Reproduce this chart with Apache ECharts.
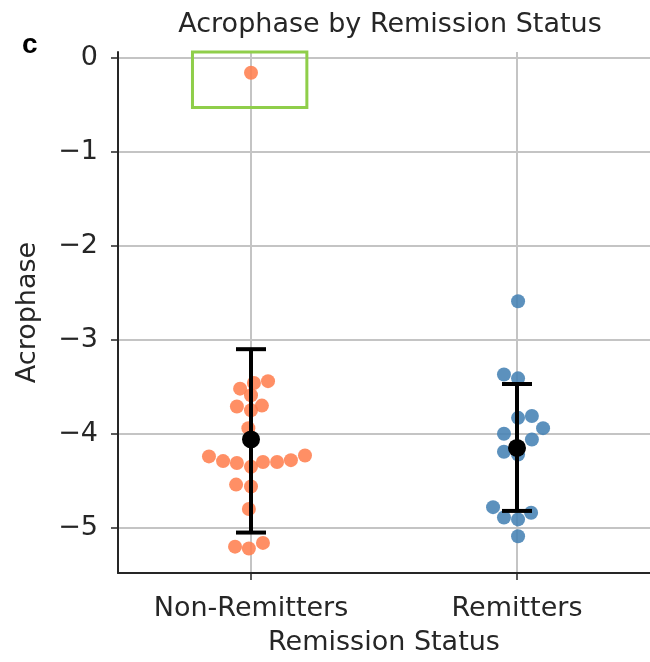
<!DOCTYPE html>
<html>
<head>
<meta charset="utf-8">
<script src="https://cdn.jsdelivr.net/npm/echarts@6/dist/echarts.min.js"></script>
<style>html,body{margin:0;padding:0;background:#fff}#c{width:650px;height:662px}</style>
</head>
<body>
<div id="c"></div>
<script>
// ---- data ----
const categories = ['Non-Remitters', 'Remitters'];
const yTicks = [0, -1, -2, -3, -4, -5];
// jitter offsets (category units) and values
const nonRemJitter = [0, -0.041, 0.011, 0.064, 0, -0.053, 0.041, 0, -0.01, -0.158, -0.105, -0.053, 0, 0.045, 0.098, 0.15, 0.203, -0.056, 0, -0.008, -0.06, -0.008, 0.045];
const nonRemValues = [-0.16, -3.52, -3.46, -3.44, -3.59, -3.71, -3.70, -3.75, -3.94, -4.24, -4.29, -4.31, -4.35, -4.30, -4.30, -4.28, -4.23, -4.54, -4.56, -4.80, -5.20, -5.22, -5.16];
const remJitter = [0.004, -0.049, 0.004, 0.004, 0.056, 0.098, -0.049, 0.056, -0.049, 0.004, -0.09, -0.049, 0.004, 0.053, 0.004];
const remValues = [-2.59, -3.37, -3.41, -3.83, -3.81, -3.94, -4.00, -4.06, -4.19, -4.22, -4.78, -4.89, -4.91, -4.84, -5.09];
const means = [-4.06, -4.15];
const errLow = [-5.05, -4.82];
const errHigh = [-3.10, -3.47];
// highlighted region around the outlier [x0, x1] and [y0, y1]
const boxX = [-0.22, 0.21];
const boxY = [-0.53, 0.085];
const catPositions = [0, 1];

const chart = echarts.init(document.getElementById('c'), null, {renderer: 'canvas'});
const FONT = 'DejaVu Sans';
const TXT = '#262626';
const GRID = '#c4c4c4';

const nonRemPts = nonRemValues.map((v, i) => [0 + nonRemJitter[i], v]);
const remPts = remValues.map((v, i) => [1 + remJitter[i], v]);
const meanPts = means.map((m, i) => [i, m]);
const errData = means.map((m, i) => [i, errLow[i], errHigh[i]]);

chart.setOption({
  animation: false,
  backgroundColor: '#fff',
  title: {
    text: 'Acrophase by Remission Status',
    left: 385, top: 6, textAlign: 'center',
    textStyle: {fontFamily: FONT, fontSize: 27, fontWeight: 'normal', color: TXT}
  },
  graphic: [{
    type: 'text', left: 22, top: 31,
    style: {text: 'c', font: 'bold 28px "Liberation Sans", Arial', fill: '#000'}
  }],
  grid: {left: 118, right: 0, top: 52, bottom: 89, containLabel: false},
  xAxis: {
    type: 'value', min: -0.5, max: 1.5,
    name: 'Remission Status', nameLocation: 'middle', nameGap: 56,
    nameTextStyle: {fontFamily: FONT, fontSize: 27, color: TXT},
    axisLine: {show: true, onZero: false, lineStyle: {color: TXT, width: 2}},
    axisTick: {show: true, customValues: catPositions, length: 7, lineStyle: {color: TXT, width: 1.5}},
    axisLabel: {customValues: catPositions, formatter: v => categories[Math.round(v)] || '', margin: 22,
      fontFamily: FONT, fontSize: 27, color: TXT},
    splitLine: {show: true, lineStyle: {color: GRID, width: 2}}
  },
  yAxis: {
    type: 'value', min: -5.48, max: 0.06,
    name: 'Acrophase', nameLocation: 'middle', nameGap: 77, nameRotate: 90,
    nameTextStyle: {fontFamily: FONT, fontSize: 27, color: TXT},
    axisLine: {show: true, onZero: false, lineStyle: {color: TXT, width: 2}},
    axisTick: {show: true, customValues: yTicks, length: 7, lineStyle: {color: TXT, width: 1.5}},
    axisLabel: {customValues: yTicks, formatter: v => String(v).replace('-', '\u2212'), margin: 20,
      fontFamily: FONT, fontSize: 27, color: TXT},
    splitLine: {show: true, lineStyle: {color: GRID, width: 2}}
  },
  series: [
    {
      type: 'scatter', name: 'Non-Remitters', data: nonRemPts, symbolSize: 14, z: 3,
      itemStyle: {color: '#ff7f50', opacity: 0.88},
      markArea: {
        silent: true,
        itemStyle: {color: 'rgba(0,0,0,0)', borderColor: '#8fce4a', borderWidth: 3},
        data: [[{coord: [boxX[0], boxY[1]]}, {coord: [boxX[1], boxY[0]]}]]
      }
    },
    {
      type: 'scatter', name: 'Remitters', data: remPts, symbolSize: 14, z: 3,
      itemStyle: {color: '#4682b4', opacity: 0.88}
    },
    {
      type: 'custom', name: 'err', data: errData, z: 4,
      renderItem: function (params, api) {
        const x = api.value(0);
        const lo = api.coord([x, api.value(1)]);
        const hi = api.coord([x, api.value(2)]);
        const hw = 15;
        const st = {stroke: '#000', lineWidth: 4};
        return {type: 'group', children: [
          {type: 'line', shape: {x1: lo[0], y1: lo[1], x2: hi[0], y2: hi[1]}, style: st},
          {type: 'line', shape: {x1: lo[0] - hw, y1: lo[1], x2: lo[0] + hw, y2: lo[1]}, style: st},
          {type: 'line', shape: {x1: hi[0] - hw, y1: hi[1], x2: hi[0] + hw, y2: hi[1]}, style: st}
        ]};
      }
    },
    {
      type: 'scatter', name: 'mean', data: meanPts, symbolSize: 18, z: 5,
      itemStyle: {color: '#000', opacity: 1}
    }
  ]
});
</script>
</body>
</html>
